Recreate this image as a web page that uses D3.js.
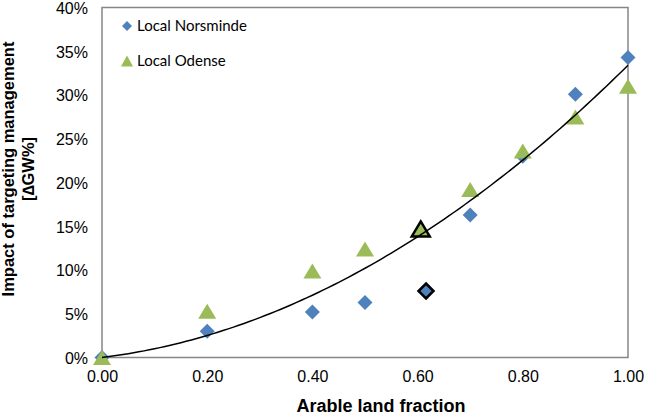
<!DOCTYPE html>
<html><head><meta charset="utf-8">
<script src="https://cdn.jsdelivr.net/npm/d3@7"></script>
<style>body{margin:0;background:#fff}svg{display:block}</style>
</head><body>
<svg id="c" width="646" height="415"></svg>
<script>
const xTicks = [0, 0.2, 0.4, 0.6, 0.8, 1.0];
const yTicks = [0, 0.05, 0.10, 0.15, 0.20, 0.25, 0.30, 0.35, 0.40];
const seriesNames = ["Local Norsminde", "Local Odense"];
const norsmindeX = [0, 0.2, 0.4, 0.5, 0.7, 0.8, 0.9, 1.0];
const norsmindeY = [0, 0.030, 0.052, 0.063, 0.163, 0.230, 0.301, 0.343];
const odenseX = [0, 0.2, 0.4, 0.5, 0.7, 0.8, 0.9, 1.0];
const odenseY = [0, 0.053, 0.099, 0.124, 0.192, 0.236, 0.275, 0.310];
const highlightNorsminde = [0.616, 0.076];
const highlightOdense = [0.606, 0.147];
// quadratic trend y = c0 + c1*x + c2*x^2
const trendCoef = [0, 0.074, 0.26];

const svg = d3.select("#c");
const x = d3.scaleLinear().domain([0, 1]).range([102, 628]);
const y = d3.scaleLinear().domain([0, 0.4]).range([357.5, 7.5]);
const axisColor = "#868686";

// frame
svg.append("rect").attr("x", x(0)).attr("y", y(0.4))
  .attr("width", x(1) - x(0)).attr("height", y(0) - y(0.4))
  .attr("fill", "none").attr("stroke", axisColor).attr("stroke-width", 1.5);

const yAxis = d3.axisLeft(y).tickValues(yTicks).tickSize(0).tickPadding(14)
  .tickFormat(d3.format(".0%"));
const gy = svg.append("g").attr("transform", `translate(${x(0)},0)`).call(yAxis);
gy.select(".domain").remove();
gy.selectAll("text").attr("font-family", "Liberation Sans, Arial, sans-serif")
  .attr("font-size", 16).attr("fill", "#000").attr("dy", "0.36em");

const xAxis = d3.axisBottom(x).tickValues(xTicks).tickSize(0).tickPadding(13)
  .tickFormat(d3.format(".2f"));
const gx = svg.append("g").attr("transform", `translate(0,${y(0)})`).call(xAxis);
gx.select(".domain").remove();
gx.selectAll("text").attr("font-family", "Liberation Sans, Arial, sans-serif")
  .attr("font-size", 16).attr("fill", "#000");

// titles
svg.append("text").attr("x", 381).attr("y", 412).attr("text-anchor", "middle")
  .attr("font-family", "Liberation Sans, Arial, sans-serif").attr("font-weight", "bold")
  .attr("font-size", 18).text("Arable land fraction");
const yl = svg.append("text").attr("transform", "translate(0,169) rotate(-90)")
  .attr("text-anchor", "middle")
  .attr("font-family", "Liberation Sans, Arial, sans-serif").attr("font-weight", "bold")
  .attr("font-size", 16.5);
yl.append("tspan").attr("x", 0).attr("y", 14).text("Impact of targeting management");
yl.append("tspan").attr("x", 0).attr("y", 34).text("[\u2206GW%]");

const blue = "#4f81bd", green = "#9bbb59";
function diamond(cx, cy, r) {
  return `M${cx},${cy - r}L${cx + r},${cy}L${cx},${cy + r}L${cx - r},${cy}Z`;
}
function tri(cx, cy, hw, hh) {
  return `M${cx},${cy - hh}L${cx + hw},${cy + hh}L${cx - hw},${cy + hh}Z`;
}

const nData = norsmindeX.map((d, i) => [d, norsmindeY[i]]);
const oData = odenseX.map((d, i) => [d, odenseY[i]]);

svg.append("g").selectAll("path").data(nData).join("path")
  .attr("d", d => diamond(x(d[0]), y(d[1]), 7.5)).attr("fill", blue);
svg.append("path").attr("d", diamond(x(highlightNorsminde[0]), y(highlightNorsminde[1]), 7.5))
  .attr("fill", blue).attr("stroke", "#000").attr("stroke-width", 2.5).attr("stroke-linejoin", "miter");

svg.append("g").selectAll("path").data(oData).join("path")
  .attr("d", d => tri(x(d[0]), y(d[1]), 9, 7.5)).attr("fill", green);
svg.append("path").attr("d", tri(x(highlightOdense[0]), y(highlightOdense[1]), 9, 7.5))
  .attr("fill", green).attr("stroke", "#000").attr("stroke-width", 2.5);

// trend line
const tx = d3.range(0, 1.0001, 0.01);
const line = d3.line().x(d => x(d)).y(d => y(trendCoef[0] + trendCoef[1] * d + trendCoef[2] * d * d));
svg.append("path").datum(tx).attr("d", line).attr("fill", "none")
  .attr("stroke", "#000").attr("stroke-width", 1.5);

// legend
const lg = svg.append("g");
lg.append("path").attr("d", diamond(127, 26, 5)).attr("fill", blue);
lg.append("path").attr("d", tri(127, 61, 6, 5.5)).attr("fill", green);
lg.selectAll("text").data(seriesNames).join("text")
  .attr("x", 137).attr("y", (d, i) => 31 + i * 35)
  .attr("font-family", "Lato, 'Open Sans', sans-serif").attr("font-size", 15)
  .attr("fill", "#000").text(d => d);
</script>
</body></html>
